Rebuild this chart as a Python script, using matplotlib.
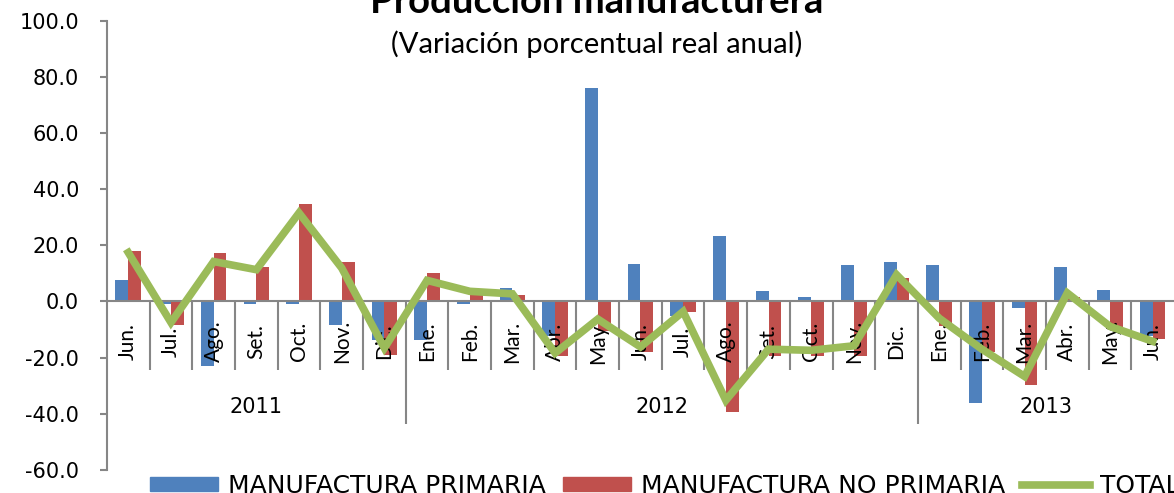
import numpy as np
import matplotlib
matplotlib.use("Agg")
import matplotlib.pyplot as plt
from matplotlib.patches import Patch
from matplotlib.lines import Line2D

# monthly data, Jun 2011 - Jun 2013
meses = ['Jun.', 'Jul.', 'Ago.', 'Set.', 'Oct.', 'Nov.', 'Dic.',
         'Ene.', 'Feb.', 'Mar.', 'Abr.', 'May.', 'Jun.', 'Jul.', 'Ago.', 'Set.', 'Oct.', 'Nov.', 'Dic.',
         'Ene.', 'Feb.', 'Mar.', 'Abr.', 'May.', 'Jun.']
anios = ['2011', '2012', '2013']
meses_por_anio = [7, 12, 6]

primaria = [7.5, -0.8, -22.9, -1.0, -1.0, -8.3, -13.6,
            -13.6, -0.8, 4.8, -12.2, 75.8, 13.4, -5.1, 23.4, 3.6, 1.6, 12.9, 14.1,
            12.8, -36.2, -2.4, 12.1, 4.2, -12.2]
no_primaria = [18.1, -8.3, 17.4, 12.2, 34.8, 14.1, -19.0,
               10.1, 3.9, 2.3, -19.6, -10.7, -18.1, -3.6, -39.5, -19.3, -19.3, -19.6, 8.2,
               -8.6, -18.1, -29.6, 1.6, -9.1, -13.4]
total = [17.4, -7.5, 14.2, 11.3, 31.5, 11.9, -16.6,
         7.5, 3.6, 2.7, -18.4, -6.3, -16.2, -3.6, -35.2, -17.0, -17.4, -15.8, 9.5,
         -6.0, -17.0, -26.7, 3.0, -8.9, -14.2]

azul = '#4F81BD'
rojo = '#C0504D'
verde = '#9BBB59'
gris = '#868686'

fig = plt.figure(figsize=(11.74, 4.93), dpi=100)
ax = fig.add_axes([0.0911, 0.0467, 0.9089, 0.9117])

x = np.arange(len(meses))
w = 0.3
ax.bar(x - w / 2, primaria, w, color=azul, zorder=2)
ax.bar(x + w / 2, no_primaria, w, color=rojo, zorder=2)
ax.plot(x, total, color=verde, lw=5.5, zorder=5, solid_joinstyle='miter')

ax.set_xlim(-0.5, len(meses) - 0.5)
ax.set_ylim(-60, 100)
ax.set_yticks(np.arange(-60, 101, 20))
ax.set_yticklabels(['%.1f' % v for v in np.arange(-60, 101, 20)],
                   family='DejaVu Sans', fontsize=15)
ax.tick_params(axis='y', length=5, width=1.5, color=gris, pad=15)
ax.set_xticks([])

for s in ['top', 'right', 'bottom']:
    ax.spines[s].set_visible(False)
ax.spines['left'].set_color(gris)
ax.spines['left'].set_linewidth(1.5)
ax.axhline(0, color=gris, lw=1.5, zorder=3, clip_on=False)

# separators: short between months, long between years
limites = np.cumsum(meses_por_anio)[:-1]
for i in range(1, len(meses)):
    if i in limites:
        ax.vlines(i - 0.5, -43.5, 0, color=gris, lw=1.5, zorder=1)
    else:
        ax.vlines(i - 0.5, -24.3, 0, color=gris, lw=1.5, zorder=1)

for xi, m in zip(x, meses):
    ax.text(xi, -14.3, m, rotation=90, ha='center', va='center',
            family=['Liberation Sans Narrow', 'Lato'], fontsize=15, zorder=4)

inicio = 0
for a, n in zip(anios, meses_por_anio):
    ax.text(inicio + (n - 1) / 2, -37.5, a, ha='center', va='center',
            family='DejaVu Sans', fontsize=15)
    inicio += n

fig.text(0.5085, 1 - 13 / 493, 'Producción manufacturera', ha='center', va='baseline',
         family='Lato', fontweight='bold', fontsize=27.5)
fig.text(0.5085, 1 - 44 / 493, '(Variación porcentual real anual)', ha='center', va='center',
         family='Lato', fontsize=21)

handles = [Patch(color=azul), Patch(color=rojo), Line2D([], [], color=verde, lw=5.5)]
etiquetas = ['MANUFACTURA PRIMARIA', 'MANUFACTURA NO PRIMARIA', 'TOTAL']
fig.legend(handles, etiquetas, loc='center left', bbox_to_anchor=(150 / 1174, 1 - 486 / 493),
           ncol=3, frameon=False, prop={'family': 'DejaVu Sans', 'size': 18},
           handlelength=2.72, handleheight=0.5, handletextpad=0.4, columnspacing=0.68,
           borderpad=0, borderaxespad=0)

fig.savefig('out.png', dpi=100)
